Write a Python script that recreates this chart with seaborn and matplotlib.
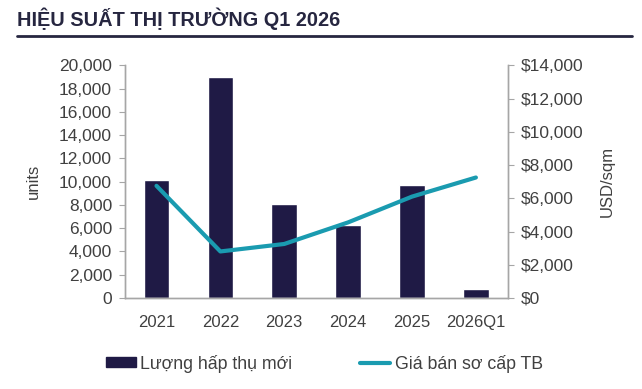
import pandas as pd
import seaborn as sns
import matplotlib.pyplot as plt
from matplotlib.lines import Line2D
from matplotlib.patches import Patch
from matplotlib.ticker import FuncFormatter, FixedLocator

# Datos
periodos = ["2021", "2022", "2023", "2024", "2025", "2026Q1"]
luong_hap_thu = [10100, 19000, 8100, 6300, 9700, 800]
gia_ban = [6750, 2800, 3250, 4550, 6100, 7250]

df = pd.DataFrame({"periodo": periodos, "units": luong_hap_thu, "gia": gia_ban})

sns.set_style("white")
plt.rcParams["font.family"] = ["Liberation Sans", "DejaVu Sans"]

color_bar = "#1f1a45"
color_line = "#1a9bb0"
color_txt = "#404040"
color_axis = "#a6a6a6"

fig = plt.figure(figsize=(6.42, 3.89), dpi=100)
ax = fig.add_axes([0.194, 0.234, 0.597, 0.598])
ax2 = ax.twinx()

sns.barplot(data=df, x="periodo", y="units", color=color_bar, width=0.4,
            saturation=1, ax=ax)
sns.lineplot(data=df, x="periodo", y="gia", color=color_line, linewidth=3,
             ax=ax2, sort=False)

ax.set_ylim(0, 20000)
ax.set_yticks(range(0, 20001, 2000))
ax.yaxis.set_major_formatter(FuncFormatter(lambda v, p: f"{int(v):,}"))
ax2.set_ylim(0, 14000)
ax2.set_yticks(range(0, 14001, 2000))
ax2.yaxis.set_major_formatter(FuncFormatter(lambda v, p: f"${int(v):,}"))
ax.set_xlim(-0.5, len(periodos) - 0.5)

ax.set_xlabel("")
ax.set_ylabel("units", fontsize=12, color=color_txt, labelpad=13)
ax2.set_ylabel("USD/sqm", fontsize=12, color=color_txt, labelpad=12)

for a in (ax, ax2):
    a.spines["top"].set_visible(False)
    for s in ("left", "right", "bottom"):
        a.spines[s].set_color(color_axis)
        a.spines[s].set_linewidth(1)
ax.tick_params(axis="y", labelsize=12.5, colors=color_txt, length=4, color=color_axis,
               direction="out", pad=5)
ax2.tick_params(axis="y", labelsize=12.5, colors=color_txt, length=4, color=color_axis,
                direction="out", pad=5)
ax.tick_params(axis="x", labelsize=12, colors=color_txt, length=0, pad=12)
ax.xaxis.set_minor_locator(FixedLocator([i + 0.5 for i in range(-1, len(periodos))]))
ax.tick_params(axis="x", which="minor", length=4, direction="out", color=color_axis)
ax.set_zorder(ax2.get_zorder() - 1)
ax.patch.set_visible(False)

# Titulo
fig.text(0.027, 0.953, "HIỆU SUẤT THỊ TRƯỜNG Q1 2026", fontsize=14.3, fontweight="bold",
         color="#262640", va="center", ha="left")
fig.add_artist(Line2D([0.026, 0.985], [0.908, 0.908], color="#262640", linewidth=2,
                      transform=fig.transFigure))

# Leyenda
handles = [Patch(facecolor=color_bar, edgecolor=color_bar),
           Line2D([0], [0], color=color_line, linewidth=3)]
fig.legend(handles, ["Lượng hấp thụ mới", "Giá bán sơ cấp TB"], loc="center",
           bbox_to_anchor=(0.505, 0.065), ncol=2, frameon=False, fontsize=12.8,
           handlelength=1.7, handleheight=0.5, handletextpad=0.25, columnspacing=3.8,
           labelcolor=color_txt)

fig.savefig("out.png", dpi=100)
